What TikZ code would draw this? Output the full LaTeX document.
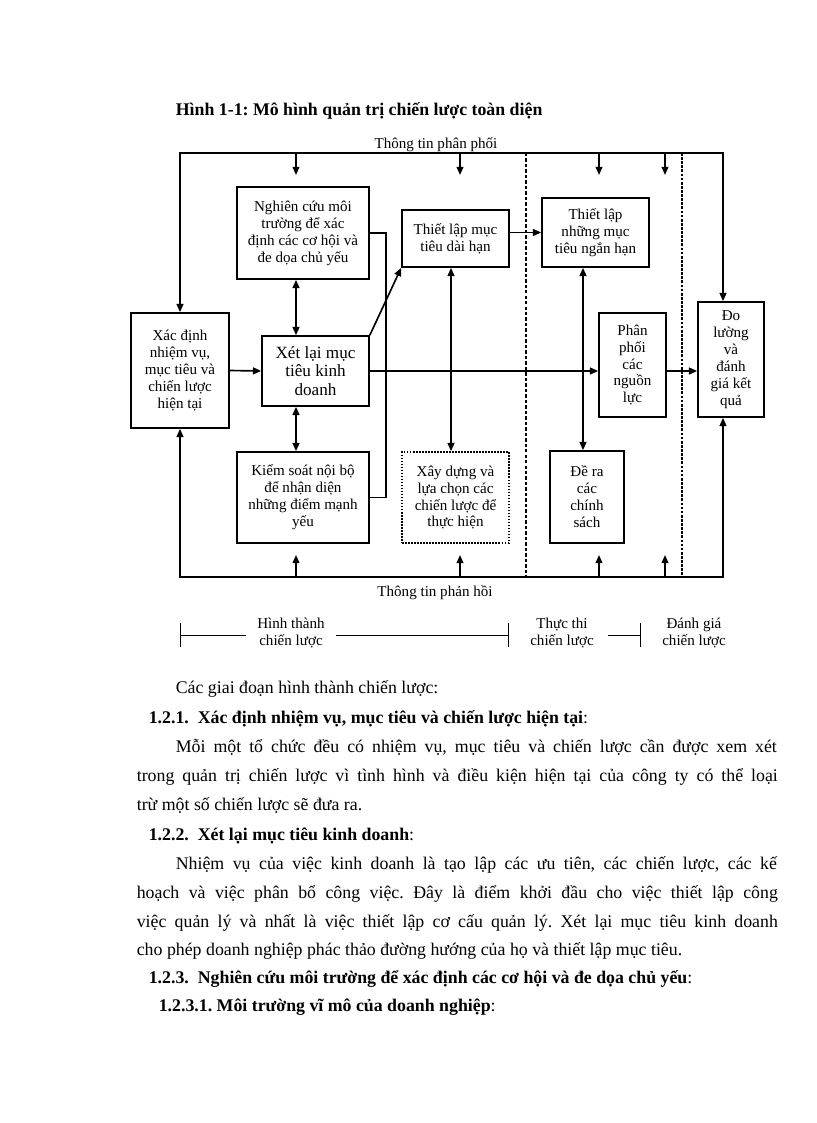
\documentclass[tikz,border=0pt]{standalone}
\usepackage{fontspec}
\setmainfont{Liberation Serif}
\usetikzlibrary{arrows.meta}
\newdimen\pxl \pxl=0.7296pt
\frenchspacing

\begin{document}
\begin{tikzpicture}[x=\pxl, y=-\pxl, line width=1.2pt,
  >={Triangle[length=6pt,width=5pt]},
  blk/.style={draw, align=center, inner sep=0pt, font=\fontsize{11}{12.4}\selectfont},
  lbl/.style={align=center, inner sep=0pt, font=\fontsize{11}{12.4}\selectfont},
  body/.style={anchor=base west, inner sep=0pt, font=\fontsize{13}{15}\selectfont},
  phase/.style={line width=0.7pt}]
\useasboundingbox (0,0) rectangle (816,1123);

\node[anchor=base west, inner sep=0pt, font=\fontsize{13}{15}\selectfont\bfseries] (title) at (175,115)
  {Hình 1-1: Mô hình quản trị chiến lược toàn diện};

% khoi
\node[blk, minimum width=98\pxl, minimum height=115\pxl] (xdnv) at (180,370.5)
  {Xác định\\nhiệm vụ,\\mục tiêu và\\chiến lược\\hiện tại};
\node[blk, minimum width=132\pxl, minimum height=92\pxl] (ncmt) at (303,233)
  {Nghiên cứu môi\\trường để xác\\định các cơ hội và\\đe dọa chủ yếu};
\node[blk, minimum width=107\pxl, minimum height=70\pxl, font=\fontsize{12.5}{13.5}\selectfont] (xlmt) at (315.5,371)
  {Xét lại mục\\tiêu kinh\\doanh};
\node[blk, minimum width=132\pxl, minimum height=91\pxl] (ksnb) at (303,497.5)
  {Kiểm soát nội bộ\\để nhận diện\\những điểm mạnh\\yếu};
\node[blk, minimum width=107\pxl, minimum height=57\pxl] (tldh) at (455.5,238.5)
  {Thiết lập mục\\tiêu dài hạn};
\node[blk, densely dotted, minimum width=107\pxl, minimum height=91\pxl] (xdlc) at (455.5,497.5)
  {Xây dựng và\\lựa chọn các\\chiến lược để\\thực hiện};
\node[blk, minimum width=107\pxl, minimum height=69\pxl] (tlnh) at (595.5,232.5)
  {Thiết lập\\những mục\\tiêu ngắn hạn};
\node[blk, minimum width=67\pxl, minimum height=104\pxl] (ppnl) at (632.5,365)
  {Phân\\phối\\các\\nguồn\\lực};
\node[blk, minimum width=74\pxl, minimum height=92\pxl] (drcs) at (587,497)
  {Đề ra\\các\\chính\\sách};
\node[blk, minimum width=66\pxl, minimum height=115\pxl] (dldg) at (731,359.5)
  {Đo\\lường\\và\\đánh\\giá kết\\quả};

% thong tin phan phoi / phan hoi
\coordinate (tl) at (180,153);
\coordinate (tr) at (723,153);
\coordinate (bl) at (180,577);
\coordinate (br) at (723,577);
\draw[<->] (xdnv.north) -- (tl) -- (tr) -- (tr |- dldg.north);
\draw[<->] (xdnv.south) -- (bl) -- (br) -- (br |- dldg.south);
\foreach \x [count=\i] in {296,460,599,665} {
  \coordinate (pt\i) at (\x,153);
  \coordinate (pb\i) at (\x,577);
  \draw[->] (pt\i) -- ++(0,22);
  \draw[->] (pb\i) -- ++(0,-22);
}
\node[lbl, anchor=base] (ttpp) at (436,148) {Thông tin phân phối};
\node[lbl, anchor=base] (ttph) at (435,596) {Thông tin phản hồi};

% ranh gioi giai doan
\coordinate (d1) at (526,153);
\coordinate (d2) at (682,153);
\draw[dash pattern=on 2.5pt off 1.5pt, line width=0.8pt] (d1) -- (d1 |- bl);
\draw[dash pattern=on 2pt off 1pt, line width=0.8pt] (d2) -- (d2 |- bl);

% lien ket
\draw[->] (xdnv.east) -- (xlmt.west);
\draw[<->] (ncmt.south -| pt1) -- (xlmt.north -| pt1);
\draw[<->] (xlmt.south -| pt1) -- (ksnb.north -| pt1);
\coordinate (jn) at (386,371);
\draw (ncmt.east) -| (jn) |- (ksnb.east);
\draw[->] (xlmt.north east) -- (tldh.south west);
\draw[<->] ([xshift=-4.5\pxl]tldh.south) -- ([xshift=-4.5\pxl]xdlc.north);
\draw[->] (tldh.east |- tlnh.west) -- (tlnh.west);
\draw[<->] ([xshift=-4\pxl]drcs.north |- tlnh.south) -- ([xshift=-4\pxl]drcs.north);
\draw[->] (xlmt.east) -- (xlmt.east -| ppnl.west);
\draw[->] (ppnl.east |- xlmt.east) -- (dldg.west |- xlmt.east);

% giai doan
\node[lbl, inner xsep=7.3pt] (htcl) at (291,633) {Hình thành\\chiến lược};
\node[lbl, inner xsep=10pt] (ttcl) at (562,633) {Thực thi\\chiến lược};
\node[lbl] (dgcl) at (694,633) {Đánh giá\\chiến lược};
\coordinate (g0) at (180,635);
\coordinate (g1) at (509,635);
\coordinate (g2) at (641,635);
\draw[phase, {Bar[width=17pt]}-] (g0) -- (g0 -| htcl.west);
\draw[phase, -{Bar[width=17pt]}] (g0 -| htcl.east) -- (g1);
\draw[phase, -{Bar[width=17pt]}] (g0 -| ttcl.east) -- (g2);

% van ban
\node[body] (t0) at (175,693) {Các giai đoạn hình thành chiến lược:};
\node[body] (t1) at (148,723) {\textbf{1.2.1.\ \ Xác định nhiệm vụ, mục tiêu và chiến lược hiện tại}:};
\node[body] (t2) at (175,752) {\makebox[438.5pt][s]{Mỗi một tổ chức đều có nhiệm vụ, mục tiêu và chiến lược cần được xem xét}};
\node[body] (t3) at (136,781) {\makebox[467.7pt][s]{trong quản trị chiến lược vì tình hình và điều kiện hiện tại của công ty có thể loại}};
\node[body] (t4) at (136,810) {trừ một số chiến lược sẽ đưa ra.};
\node[body] (t5) at (148,840) {\textbf{1.2.2.\ \ Xét lại mục tiêu kinh doanh}:};
\node[body] (t6) at (175,869) {\makebox[438.5pt][s]{Nhiệm vụ của việc kinh doanh là tạo lập các ưu tiên, các chiến lược, các kế}};
\node[body] (t7) at (136,898) {\makebox[467.7pt][s]{hoạch và việc phân bổ công việc. Đây là điểm khởi đầu cho việc thiết lập công}};
\node[body] (t8) at (136,927) {\makebox[467.7pt][s]{việc quản lý và nhất là việc thiết lập cơ cấu quản lý. Xét lại mục tiêu kinh doanh}};
\node[body] (t9) at (136,955) {cho phép doanh nghiệp phác thảo đường hướng của họ và thiết lập mục tiêu.};
\node[body] (t10) at (148,983) {\textbf{1.2.3.\ \ Nghiên cứu môi trường để xác định các cơ hội và đe dọa chủ yếu}:};
\node[body] (t11) at (158,1011) {\textbf{1.2.3.1. Môi trường vĩ mô của doanh nghiệp}:};
\end{tikzpicture}
\end{document}
